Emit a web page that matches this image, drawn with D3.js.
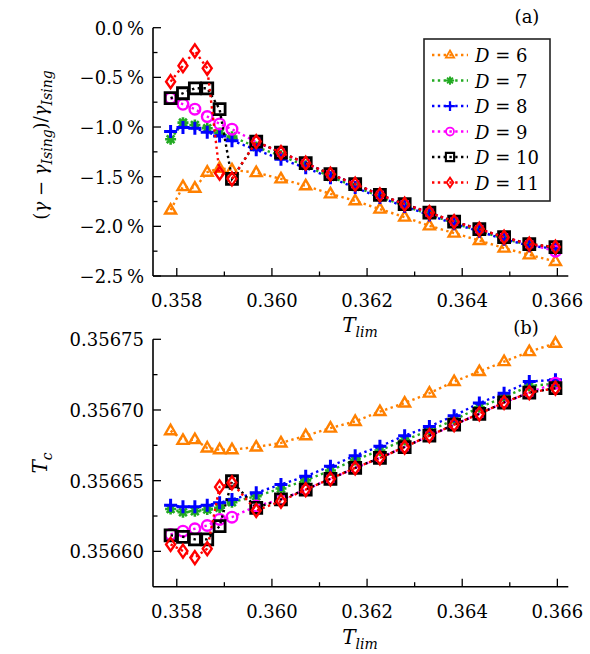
<!DOCTYPE html>
<html>
<head>
<meta charset="utf-8">
<script src="https://cdn.jsdelivr.net/npm/d3@7"></script>
<style>
  body { margin: 0; background: #fff; }
</style>
</head>
<body>
<svg id="chart"></svg>
<script>
// 数据
var tlim = [0.35787, 0.35813, 0.35838, 0.35864, 0.35890, 0.35916, 0.35967, 0.36019, 0.36071, 0.36123,
            0.36175, 0.36227, 0.36279, 0.36331, 0.36383, 0.36436, 0.36488, 0.36541, 0.36596];
var dims = [6, 7, 8, 9, 10, 11];

// (a) 相对偏差 (%)
var gamma6  = [-1.836, -1.600, -1.616, -1.455, -1.415, -1.432, -1.459, -1.522, -1.592, -1.673, -1.743, -1.827, -1.907, -1.995, -2.068, -2.143, -2.219, -2.287, -2.354];
var gamma7  = [-1.123, -0.956, -0.979, -1.013, -1.060, -1.097, -1.200, -1.290, -1.390, -1.500, -1.600, -1.700, -1.795, -1.880, -1.970, -2.045, -2.125, -2.190, -2.220];
var gamma8  = [-1.046, -1.006, -1.013, -1.053, -1.090, -1.137, -1.230, -1.324, -1.410, -1.510, -1.610, -1.710, -1.800, -1.885, -1.975, -2.050, -2.130, -2.195, -2.225];
var gamma9  = [-0.710, -0.771, -0.820, -0.895, -0.969, -1.022, -1.150, -1.260, -1.364, -1.475, -1.575, -1.683, -1.777, -1.861, -1.952, -2.028, -2.109, -2.179, -2.250];
var gamma10 = [-0.710, -0.660, -0.610, -0.610, -0.820, -1.522, -1.147, -1.257, -1.364, -1.475, -1.575, -1.683, -1.777, -1.861, -1.952, -2.028, -2.109, -2.179, -2.209];
var gamma11 = [-0.543, -0.382, -0.234, -0.409, -1.465, -1.522, -1.147, -1.257, -1.364, -1.475, -1.575, -1.683, -1.777, -1.861, -1.952, -2.028, -2.109, -2.179, -2.209];

// (b) Tc
var tc6  = [0.3566853, 0.3566785, 0.3566790, 0.3566731, 0.3566719, 0.3566719, 0.3566738, 0.3566767, 0.3566818, 0.3566872, 0.3566919, 0.3566989, 0.3567049, 0.3567119, 0.3567201, 0.3567272, 0.3567342, 0.3567413, 0.3567472];
var tc7  = [0.3566300, 0.3566277, 0.3566284, 0.3566296, 0.3566308, 0.3566348, 0.3566390, 0.3566445, 0.3566502, 0.3566572, 0.3566647, 0.3566713, 0.3566788, 0.3566854, 0.3566929, 0.3567019, 0.3567089, 0.3567171, 0.3567185];
var tc8  = [0.3566327, 0.3566315, 0.3566315, 0.3566327, 0.3566343, 0.3566367, 0.3566414, 0.3566473, 0.3566531, 0.3566602, 0.3566677, 0.3566743, 0.3566818, 0.3566884, 0.3566959, 0.3567049, 0.3567119, 0.3567201, 0.3567213];
var tc9  = [0.3566120, 0.3566143, 0.3566160, 0.3566183, 0.3566226, 0.3566242, 0.3566320, 0.3566367, 0.3566437, 0.3566513, 0.3566590, 0.3566661, 0.3566738, 0.3566818, 0.3566896, 0.3566973, 0.3567053, 0.3567123, 0.3567190];
var tc10 = [0.3566113, 0.3566103, 0.3566085, 0.3566085, 0.3566178, 0.3566496, 0.3566308, 0.3566367, 0.3566437, 0.3566513, 0.3566590, 0.3566661, 0.3566738, 0.3566818, 0.3566896, 0.3566973, 0.3567053, 0.3567123, 0.3567154];
var tc11 = [0.3566049, 0.3566002, 0.3565956, 0.3566019, 0.3566456, 0.3566485, 0.3566289, 0.3566355, 0.3566437, 0.3566513, 0.3566590, 0.3566661, 0.3566738, 0.3566818, 0.3566896, 0.3566973, 0.3567053, 0.3567123, 0.3567154];

var gammaSeries = [gamma6, gamma7, gamma8, gamma9, gamma10, gamma11];
var tcSeries = [tc6, tc7, tc8, tc9, tc10, tc11];

var colors = ["#ff8000", "#22aa22", "#0000ff", "#ff00ff", "#000000", "#ff0000"];
var shapes = ["triangle", "asterisk", "plus", "circle", "square", "diamond"];

var width = 590, height = 654;
var svg = d3.select("#chart").attr("width", width).attr("height", height)
    .attr("font-family", "'DejaVu Serif', serif");

// 比例尺
var x = d3.scaleLinear().domain([0.3575, 0.36623]).range([153, 568.3]);
var yTop = d3.scaleLinear().domain([-2.5, 0]).range([276, 27.7]);
var yBot = d3.scaleLinear().domain([0.356575, 0.35675]).range([586.7, 339.3]);

var fs = 18;

// 标记形状
function markerPath(shape) {
    var p = d3.path();
    if (shape === "triangle") {
        p.moveTo(0, -6); p.lineTo(5.5, 3.5); p.lineTo(-5.5, 3.5); p.closePath();
    } else if (shape === "circle") {
        p.arc(0, 0, 5.3, 0, 2 * Math.PI);
    } else if (shape === "square") {
        p.rect(-5.5, -5.5, 11, 11);
    } else if (shape === "diamond") {
        p.moveTo(0, -6.5); p.lineTo(4.5, 0); p.lineTo(0, 6.5); p.lineTo(-4.5, 0); p.closePath();
    } else if (shape === "plus") {
        p.moveTo(-6.5, 0); p.lineTo(6.5, 0); p.moveTo(0, -6.5); p.lineTo(0, 6.5);
    } else if (shape === "asterisk") {
        for (var k = 0; k < 4; k++) {
            var a = k * Math.PI / 4;
            p.moveTo(-5.5 * Math.cos(a), -5.5 * Math.sin(a));
            p.lineTo(5.5 * Math.cos(a), 5.5 * Math.sin(a));
        }
    }
    return p.toString();
}
var markerStroke = {triangle: 2.4, circle: 2.4, square: 2.8, diamond: 2.4, plus: 3, asterisk: 2.6};

function drawSeries(g, series, yScale) {
    series.forEach(function(vals, i) {
        var pts = tlim.map(function(t, j) { return [t, vals[j]]; });
        var line = d3.line().x(d => x(d[0])).y(d => yScale(d[1]));
        g.append("path")
            .datum(pts)
            .attr("fill", "none")
            .attr("stroke", colors[i])
            .attr("stroke-width", 2.4)
            .attr("stroke-dasharray", "2.4,3.4")
            .attr("d", line);
        g.selectAll(null)
            .data(pts)
            .enter().append("path")
            .attr("transform", d => `translate(${x(d[0])},${yScale(d[1])})`)
            .attr("d", markerPath(shapes[i]))
            .attr("fill", "none")
            .attr("stroke", colors[i])
            .attr("stroke-width", markerStroke[shapes[i]]);
    });
}

function drawAxes(yScale, yMajor, yMinor, yFmt) {
    var y0 = yScale.range()[0];
    var xMajor = d3.range(0.358, 0.3665, 0.002);
    var xMinor = d3.range(0.359, 0.3665, 0.002);

    var gx = svg.append("g").attr("transform", `translate(0,${y0})`);
    gx.append("line").attr("x1", x.range()[0]).attr("x2", x.range()[1])
        .attr("stroke", "#000").attr("stroke-width", 1.6);
    gx.selectAll(".maj").data(xMajor).enter().append("line")
        .attr("x1", d => x(d)).attr("x2", d => x(d)).attr("y1", 0).attr("y2", -8)
        .attr("stroke", "#000").attr("stroke-width", 1.3);
    gx.selectAll(".min").data(xMinor).enter().append("line")
        .attr("x1", d => x(d)).attr("x2", d => x(d)).attr("y1", 0).attr("y2", -4.5)
        .attr("stroke", "#000").attr("stroke-width", 1.3);
    gx.selectAll("text").data(xMajor).enter().append("text")
        .attr("x", d => x(d)).attr("y", 31)
        .attr("text-anchor", "middle").attr("font-size", fs)
        .text(d => d3.format(".3f")(d));

    var gy = svg.append("g").attr("transform", `translate(${x.range()[0]},0)`);
    gy.append("line").attr("y1", yScale.range()[0]).attr("y2", yScale.range()[1])
        .attr("stroke", "#000").attr("stroke-width", 1.6);
    gy.selectAll(".maj").data(yMajor).enter().append("line")
        .attr("y1", d => yScale(d)).attr("y2", d => yScale(d)).attr("x1", 0).attr("x2", 8)
        .attr("stroke", "#000").attr("stroke-width", 1.3);
    gy.selectAll(".min").data(yMinor).enter().append("line")
        .attr("y1", d => yScale(d)).attr("y2", d => yScale(d)).attr("x1", 0).attr("x2", 4.5)
        .attr("stroke", "#000").attr("stroke-width", 1.3);
    gy.selectAll("text").data(yMajor).enter().append("text")
        .attr("x", -9).attr("y", d => yScale(d) + 7)
        .attr("text-anchor", "end").attr("font-size", fs)
        .text(yFmt);
}

// 坐标轴
drawAxes(yTop, [-2.5, -2.0, -1.5, -1.0, -0.5, 0.0], [-2.25, -1.75, -1.25, -0.75, -0.25],
    d => (d < 0 ? "\u2212" : "") + Math.abs(d).toFixed(1) + "\u2009%");
drawAxes(yBot, [0.3566, 0.35665, 0.3567, 0.35675], [0.356625, 0.356675, 0.356725],
    d => d3.format(".5f")(d));

// 数据
drawSeries(svg.append("g"), gammaSeries, yTop);
drawSeries(svg.append("g"), tcSeries, yBot);

// x 轴标题
function tlimLabel(y) {
    var t = svg.append("text").attr("x", 360).attr("y", y).attr("text-anchor", "middle").attr("font-size", fs + 2);
    t.append("tspan").attr("font-style", "italic").text("T");
    t.append("tspan").attr("font-style", "italic").attr("font-size", 14).attr("dy", 5).text("lim");
}
tlimLabel(332);
tlimLabel(644);

// y 轴标题
var yl = svg.append("text")
    .attr("transform", "translate(47,145) rotate(-90)")
    .attr("text-anchor", "middle").attr("font-size", fs);
yl.append("tspan").text("(");
yl.append("tspan").attr("font-style", "italic").text("γ");
yl.append("tspan").text(" \u2212 ");
yl.append("tspan").attr("font-style", "italic").text("γ");
yl.append("tspan").attr("font-style", "italic").attr("font-size", 14).attr("dy", 5).text("Ising");
yl.append("tspan").attr("dy", -5).text(")/");
yl.append("tspan").attr("font-style", "italic").text("γ");
yl.append("tspan").attr("font-style", "italic").attr("font-size", 14).attr("dy", 5).text("Ising");

var tcl = svg.append("text")
    .attr("transform", "translate(47,463) rotate(-90)")
    .attr("text-anchor", "middle").attr("font-size", fs + 2);
tcl.append("tspan").attr("font-style", "italic").text("T");
tcl.append("tspan").attr("font-style", "italic").attr("font-size", 14).attr("dy", 5).text("c");

// 面板标记
svg.append("text").attr("x", 527).attr("y", 23).attr("text-anchor", "middle").attr("font-size", fs).text("(a)");
svg.append("text").attr("x", 526).attr("y", 334).attr("text-anchor", "middle").attr("font-size", fs).text("(b)");

// 图例
var lg = svg.append("g");
lg.append("rect").attr("x", 424).attr("y", 39).attr("width", 126).attr("height", 162)
    .attr("fill", "#fff").attr("stroke", "#222").attr("stroke-width", 1.6);
dims.forEach(function(dv, i) {
    var ly = 55 + i * 25.5;
    lg.append("line").attr("x1", 432).attr("x2", 468).attr("y1", ly).attr("y2", ly)
        .attr("stroke", colors[i]).attr("stroke-width", 2.4).attr("stroke-dasharray", "2.4,3.4");
    lg.append("path")
        .attr("d", markerPath(shapes[i]))
        .attr("fill", "none").attr("stroke", colors[i])
        .attr("stroke-width", markerStroke[shapes[i]])
        .attr("transform", `translate(450,${ly}) scale(0.75)`);
    var t = lg.append("text").attr("x", 475).attr("y", ly + 7).attr("font-size", fs);
    t.append("tspan").attr("font-style", "italic").text("D");
    t.append("tspan").text(" = " + dv);
});
</script>
</body>
</html>
